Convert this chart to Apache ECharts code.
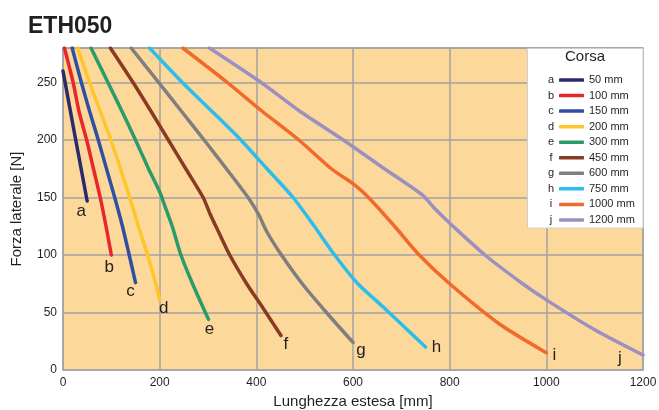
<!DOCTYPE html>
<html>
<head>
<meta charset="utf-8">
<script src="https://cdn.jsdelivr.net/npm/echarts@6/dist/echarts.min.js"></script>
<style>
  html, body { margin: 0; padding: 0; background: #fff; }
  #chart { width: 659px; height: 410px; }
</style>
</head>
<body>
<div id="chart"></div>
<script>
// curve letters and stroke lengths (legend)
var letters = ['a', 'b', 'c', 'd', 'e', 'f', 'g', 'h', 'i', 'j'];
var strokes = ['50 mm', '100 mm', '150 mm', '200 mm', '300 mm', '450 mm', '600 mm', '750 mm', '1000 mm', '1200 mm'];
var colors = ['#2d2a6c', '#e8262b', '#2f4fa2', '#fec62b', '#2c9b6b', '#8a3a22', '#7f7f7f', '#2bbdec', '#f06a2a', '#9b90c0'];

// [extended length mm, lateral force N]
var curveA = [[0, 260], [25, 203], [50, 147]];
var curveB = [[3, 280], [21, 250], [33, 225], [49, 200], [63, 175], [77, 150], [89, 125], [100, 100]];
var curveC = [[19, 280], [38, 250], [55, 225], [73, 200], [90, 175], [107, 150], [123, 125], [137, 100], [150, 76]];
var curveD = [[30, 280], [55, 250], [77, 225], [99, 200], [119, 175], [138, 150], [156, 125], [175, 100], [192, 75], [200, 61]];
var curveE = [[58, 280], [93, 250], [122, 225], [150, 200], [177, 175], [200, 155], [213, 140], [226, 125], [244, 100], [268, 75], [301, 44]];
var curveF = [[98, 280], [145, 250], [182, 225], [218, 200], [254, 175], [290, 150], [305, 135], [322, 120], [345, 100], [380, 75], [412, 55], [451, 30]];
var curveG = [[141, 280], [198, 250], [245, 225], [292, 200], [338, 175], [383, 150], [405, 135], [422, 120], [452, 100], [495, 75], [545, 50], [600, 24]];
var curveH = [[179, 280], [247, 250], [308, 225], [368, 200], [422, 175], [476, 150], [520, 125], [562, 100], [610, 75], [662, 55], [750, 20]];
var curveI = [[248, 280], [340, 250], [412, 225], [488, 200], [555, 175], [600, 162], [632, 150], [686, 125], [737, 100], [800, 75], [903, 40], [1000, 15]];
var curveJ = [[303, 280], [410, 250], [490, 225], [580, 200], [665, 175], [744, 152], [770, 140], [807, 125], [873, 100], [951, 75], [1000, 61], [1100, 35], [1200, 13]];
var curves = [curveA, curveB, curveC, curveD, curveE, curveF, curveG, curveH, curveI, curveJ];

// where each end letter sits relative to the curve end (px)
var labelOffsets = [[-6, 10], [-2, 12], [-5, 9], [4, 8], [1, 10], [5, 9], [8, 8], [11, 0], [8, 3], [-23, 3]];

var chart = echarts.init(document.getElementById('chart'));

var series = curves.map(function (data, i) {
  return {
    name: strokes[i],
    type: 'line',
    data: data,
    smooth: 0.25,
    showSymbol: false,
    symbol: 'none',
    clip: true,
    lineStyle: { color: colors[i], width: 3.5, cap: 'round' },
    itemStyle: { color: colors[i] },
    endLabel: {
      show: true,
      formatter: letters[i],
      distance: 0,
      align: 'center',
      verticalAlign: 'middle',
      offset: labelOffsets[i],
      fontSize: 17,
      color: '#231f20',
      fontFamily: 'Liberation Sans'
    }
  };
});

// legend box decoration: frame, title and letters
var legendTop = 80, legendStep = 15.55;
var graphics = [
  { type: 'rect', z: 100, shape: { x: 527.5, y: 48.5, width: 115.5, height: 179.5 },
    style: { fill: '#fff', stroke: '#d0d0d0', lineWidth: 1 } },
  { type: 'text', z: 101, x: 585, y: 57,
    style: { text: 'Corsa', fill: '#231f20', font: '15px "Liberation Sans"', align: 'center', verticalAlign: 'middle' } }
];
letters.forEach(function (l, i) {
  graphics.push({ type: 'text', z: 101, x: 551, y: legendTop + i * legendStep,
    style: { text: l, fill: '#231f20', font: '11px "Liberation Sans"', align: 'center', verticalAlign: 'middle' } });
});

chart.setOption({
  animation: false,
  textStyle: { fontFamily: 'Liberation Sans' },
  title: {
    text: 'ETH050', left: 23, top: 10,
    textStyle: { fontSize: 23, fontWeight: 'bold', color: '#231f20' }
  },
  grid: {
    left: 63, right: 16, top: 48, bottom: 40,
    outerBoundsMode: 'none', containLabel: false,
    show: true, backgroundColor: '#fdd89b', borderColor: '#a3a3a3', borderWidth: 1.5
  },
  legend: {
    orient: 'vertical', left: 559, top: legendTop - 6, z: 110, padding: 0,
    itemWidth: 25, itemHeight: 3.5, itemGap: 3.55,
    icon: 'roundRect',
    textStyle: { fontSize: 11, lineHeight: 12, color: '#231f20' },
    data: strokes,
    selectedMode: false
  },
  xAxis: {
    type: 'value', min: 0, max: 1200, interval: 200,
    name: 'Lunghezza estesa [mm]', nameLocation: 'middle', nameGap: 24,
    nameTextStyle: { fontSize: 15, color: '#231f20' },
    axisLine: { show: false },
    axisTick: { show: false },
    axisLabel: { fontSize: 12, color: '#231f20', margin: 7, formatter: function (v) { return String(v); } },
    splitLine: { lineStyle: { color: '#a3a3a3', width: 1.5 } }
  },
  yAxis: {
    type: 'value', min: 0, max: 280, interval: 50,
    name: 'Forza laterale [N]', nameLocation: 'middle', nameGap: 39,
    nameTextStyle: { fontSize: 15, color: '#231f20' },
    axisLine: { show: false },
    axisTick: { show: false },
    axisLabel: { fontSize: 12, color: '#231f20', margin: 6, showMaxLabel: false },
    splitLine: { lineStyle: { color: '#a3a3a3', width: 1.5 } }
  },
  graphic: graphics,
  series: series
});
</script>
</body>
</html>
